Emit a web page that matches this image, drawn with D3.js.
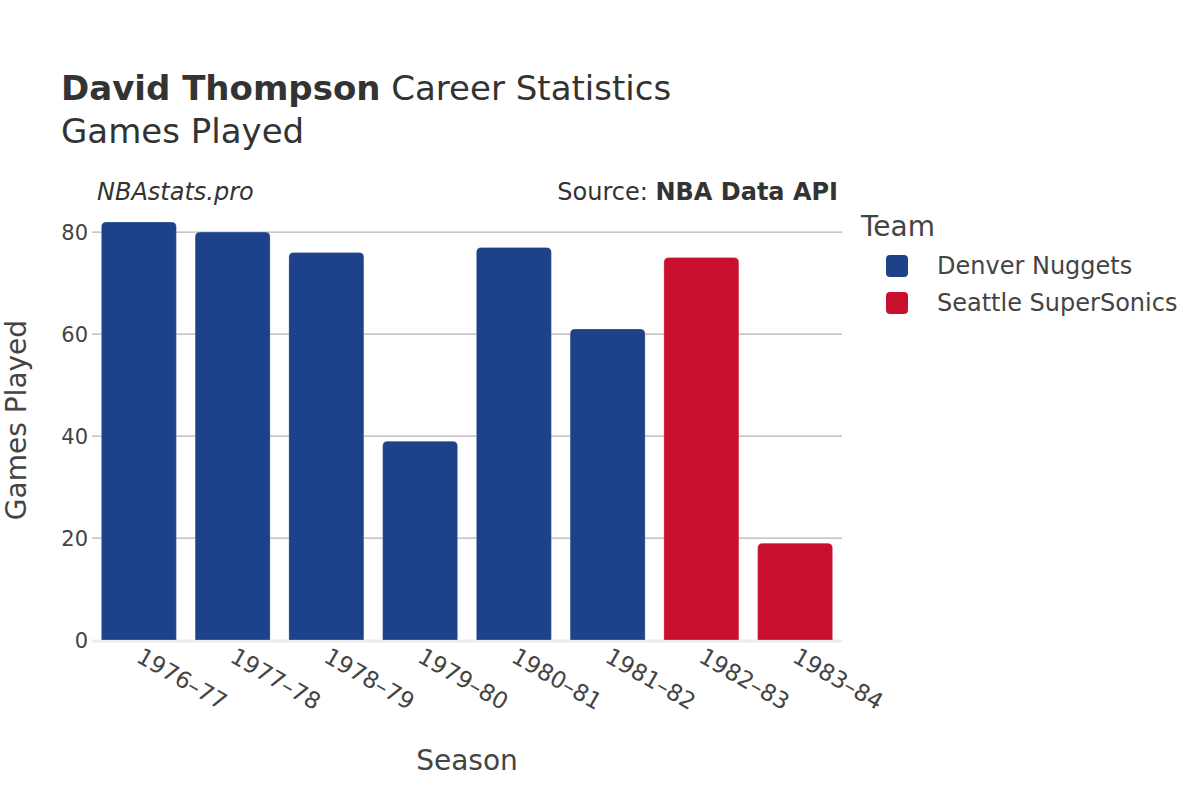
<!DOCTYPE html>
<html>
<head>
<meta charset="utf-8">
<script src="https://cdn.jsdelivr.net/npm/d3@7"></script>
<style>
  body { margin: 0; background: #fff; }
  svg { font-family: "DejaVu Sans", sans-serif; }
</style>
</head>
<body>
<svg id="chart" width="1200" height="800"></svg>
<script>
const seasons = ["1976–77", "1977–78", "1978–79", "1979–80", "1980–81", "1981–82", "1982–83", "1983–84"];
const gamesPlayed = [82, 80, 76, 39, 77, 61, 75, 19];
const teams = ["Denver Nuggets", "Denver Nuggets", "Denver Nuggets", "Denver Nuggets", "Denver Nuggets", "Denver Nuggets", "Seattle SuperSonics", "Seattle SuperSonics"];
const legendTeams = ["Denver Nuggets", "Seattle SuperSonics"];
const teamColors = ["#1d428a", "#c8102e"];
const yTicks = [0, 20, 40, 60, 80];

const svg = d3.select("#chart");
const margin = { left: 92, right: 842, top: 200, bottom: 640 };

const x = d3.scaleBand().domain(seasons).range([margin.left, margin.right]).paddingInner(0.2).paddingOuter(0.1);
const y = d3.scaleLinear().domain([0, 86.3]).range([margin.bottom, margin.top]);
const color = d3.scaleOrdinal().domain(legendTeams).range(teamColors);

// gridlines
svg.append("g").selectAll("line").data(yTicks.filter(d => d > 0)).join("line")
  .attr("x1", margin.left).attr("x2", margin.right)
  .attr("y1", d => y(d)).attr("y2", d => y(d))
  .attr("stroke", "#b3b3b3").attr("stroke-width", 1.2);

// zero line
svg.append("line").attr("x1", margin.left).attr("x2", margin.right)
  .attr("y1", y(0) + 1).attr("y2", y(0) + 1)
  .attr("stroke", "#ebebeb").attr("stroke-width", 3);

// bars with rounded tops
const r = 5;
function barPath(x0, w, yTop, yBot) {
  return `M${x0},${yBot} L${x0},${yTop + r} Q${x0},${yTop} ${x0 + r},${yTop} L${x0 + w - r},${yTop} Q${x0 + w},${yTop} ${x0 + w},${yTop + r} L${x0 + w},${yBot} Z`;
}
svg.append("g").selectAll("path").data(seasons).join("path")
  .attr("d", (s, i) => barPath(x(s), x.bandwidth(), y(gamesPlayed[i]), y(0)))
  .attr("fill", (s, i) => color(teams[i]))
  .attr("stroke", "#ffffff").attr("stroke-opacity", 0.3).attr("stroke-width", 0.8);

// y axis
const yAxis = d3.axisLeft(y).tickValues(yTicks).tickSize(0).tickPadding(0);
const yg = svg.append("g").attr("transform", `translate(${margin.left - 4},0)`).call(yAxis);
yg.select(".domain").remove();
yg.selectAll("text").attr("font-size", 21).attr("fill", "#444").attr("font-family", "DejaVu Sans").attr("dy", "0.35em");

// x axis
const xAxis = d3.axisBottom(x).tickSize(0).tickPadding(0);
const xg = svg.append("g").attr("transform", `translate(0,${margin.bottom})`).call(xAxis);
xg.select(".domain").remove();
xg.selectAll("text")
  .attr("font-size", 23).attr("fill", "#444").attr("font-family", "DejaVu Sans")
  .attr("text-anchor", "start")
  .attr("dy", null)
  .attr("transform", "translate(-4,21) rotate(30)")
  .attr("x", 0).attr("y", 0);

// axis titles
svg.append("text").attr("x", (margin.left + margin.right) / 2).attr("y", 770)
  .attr("text-anchor", "middle").attr("font-size", 28).attr("fill", "#444").text("Season");
svg.append("text").attr("transform", `translate(26,${(margin.top + margin.bottom) / 2}) rotate(-90)`)
  .attr("text-anchor", "middle").attr("font-size", 28).attr("fill", "#444").text("Games Played");

// title
const t = svg.append("text").attr("x", 61).attr("y", 100).attr("font-size", 34).attr("fill", "#333");
t.append("tspan").attr("font-weight", "bold").text("David Thompson");
t.append("tspan").text(" Career Statistics");
svg.append("text").attr("x", 61).attr("y", 143).attr("font-size", 34).attr("fill", "#333").text("Games Played");

svg.append("text").attr("x", 97).attr("y", 200).attr("font-size", 24).attr("font-style", "italic").attr("fill", "#333").text("NBAstats.pro");
const src = svg.append("text").attr("x", 838).attr("y", 200).attr("text-anchor", "end").attr("font-size", 24).attr("fill", "#333");
src.append("tspan").text("Source: ");
src.append("tspan").attr("font-weight", "bold").text("NBA Data API");

// legend
svg.append("text").attr("x", 861).attr("y", 236).attr("font-size", 28).attr("fill", "#444").text("Team");
const lg = svg.append("g").selectAll("g").data(legendTeams).join("g")
  .attr("transform", (d, i) => `translate(886,${255 + i * 37})`);
lg.append("rect").attr("width", 22).attr("height", 22).attr("rx", 4).attr("fill", d => color(d));
lg.append("text").attr("x", 51).attr("y", 11).attr("dy", "0.35em").attr("font-size", 24).attr("fill", "#444").text(d => d);
</script>
</body>
</html>
